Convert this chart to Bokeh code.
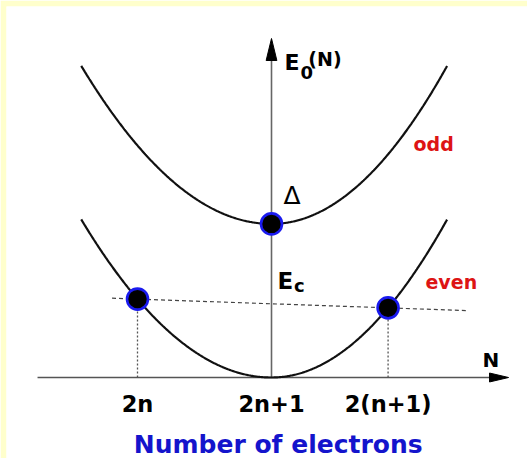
import numpy as np
from bokeh.plotting import figure
from bokeh.models import Label
from bokeh.embed import file_html
from bokeh.resources import INLINE

# ---- schematic data: ground-state energy E0(N) of a superconducting island ----
tick_labels = ["2n", "2n+1", "2(n+1)"]
tick_pos = [-1.0, 0.0, 0.87]          # positions of N on the horizontal axis
parity_names = ["even", "odd"]
vertex_energy = [0.0, 1.92]           # parabola minima: even at 0, odd lifted by Delta
curvature_left = 0.98                 # Ec on the left branch
curvature_right = 1.15                # Ec on the right branch
branch_extent = [-1.42, 1.31]         # horizontal extent of each parabola

# axis geometry (data units)
x_axis_from, x_axis_tip = -1.746, 1.769
y_axis_tip = 4.2375
PX_Y = 80.0                           # screen pixels per energy unit

FONT = "DejaVu Sans"
RED = "#dd1414"
BLUE = "#1414cc"


def energy(x, e0):
    x = np.asarray(x, dtype=float)
    k = np.where(x < 0, curvature_left, curvature_right)
    return e0 + k * x ** 2


p = figure(width=527, height=458, x_range=(-1.9776, 1.9104), y_range=(-1.0125, 4.6375),
           x_axis_type=None, y_axis_type=None, output_backend="svg", toolbar_location=None,
           min_border_left=6, min_border_top=6, min_border_right=0, min_border_bottom=0)
p.border_fill_color = "#ffffcc"
p.background_fill_color = "white"
p.outline_line_color = None
p.grid.visible = False

# axes with arrow heads
p.line([x_axis_from, x_axis_tip - 0.1], [0, 0], line_color="#555555", line_width=1.6)
p.line([0, 0], [0, y_axis_tip - 0.2], line_color="#666666", line_width=1.6)
hx, hy = 0.142, 0.056
p.patch([x_axis_tip, x_axis_tip - hx, x_axis_tip - hx], [0, hy, -hy], color="black")
vx, vy = 0.04, 0.275
p.patch([0, -vx, vx], [y_axis_tip, y_axis_tip - vy, y_axis_tip - vy], color="black")

# parabolas for even and odd N
xs = np.linspace(branch_extent[0], branch_extent[1], 400)
for e0 in vertex_energy:
    p.line(xs, energy(xs, e0), line_color="#111111", line_width=2.2)

# states marked on the curves
even_x = [tick_pos[0], tick_pos[2]]
even_y = list(energy(even_x, vertex_energy[0]))
odd_x = [tick_pos[1]]
odd_y = list(energy(odd_x, vertex_energy[1]))

# dotted drops to the N axis
for xv, yv in zip(even_x, even_y):
    p.line([xv, xv], [0, yv], line_color="#555555", line_width=1.3, line_dash="2 2")

# dashed line through the two even states
slope = (even_y[1] - even_y[0]) / (even_x[1] - even_x[0])
dx0, dx1 = -1.19, 1.45
p.line([dx0, dx1], [even_y[0] + slope * (dx0 - even_x[0]), even_y[0] + slope * (dx1 - even_x[0])],
       line_color="#444444", line_width=1.2, line_dash="4 3")

p.scatter(even_x + odd_x, even_y + odd_y, size=21, fill_color="black",
          line_color="#1a1aee", line_width=2.6)


def label(x, y, text, size, color="black", bold=True, align="left", font=FONT):
    # lift by a fraction of the font size so the glyphs sit on the intended baseline
    lift = 0.33 * float(size.rstrip("px")) / PX_Y
    p.add_layout(Label(x=x, y=y + lift, text=text, text_font=font, text_font_size=size,
                       text_color=color, text_font_style="bold" if bold else "normal",
                       text_align=align, text_baseline="alphabetic"))


# axis titles
label(0.097, 3.85, "E", "22px")
label(0.216, 3.74, "0", "18px")
label(0.275, 3.90, "(N)", "19px")
label(1.575, 0.1375, "N", "20px")

# parity labels
label(1.06, 2.84, parity_names[1], "19px", RED)
label(1.149, 1.11, parity_names[0], "19px", RED)

# energy scales
label(0.09, 2.175, "\u0394", "25px", bold=False)
label(0.045, 1.11, "E", "23px")
label(0.168, 1.07, "c", "18px")

# tick labels and axis name
for tp, tl in zip(tick_pos, tick_labels):
    label(tp, -0.425, tl, "22.5px", align="center")
label(0.05, -0.9375, "Number of electrons", "25px", BLUE, align="center")

open("out.html", "w").write(file_html(p, INLINE))
